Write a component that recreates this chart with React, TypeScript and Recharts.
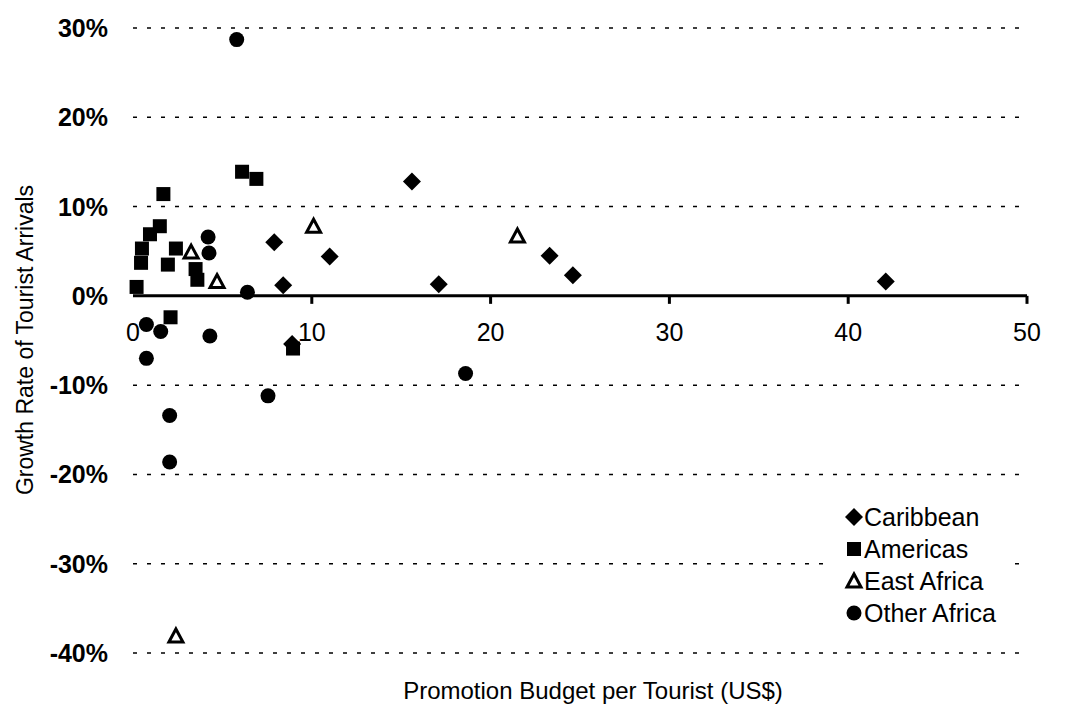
import React from 'react';
import {
  ScatterChart,
  Scatter,
  XAxis,
  YAxis,
  CartesianGrid,
  ReferenceLine,
  ReferenceDot,
  Legend,
  Label,
} from 'recharts';

// promotion budget per tourist (US$) vs growth rate of tourist arrivals (%)
const caribbean = [
  { x: 7.9, y: 6.0 },
  { x: 11.0, y: 4.4 },
  { x: 8.4, y: 1.2 },
  { x: 17.1, y: 1.3 },
  { x: 23.3, y: 4.5 },
  { x: 24.6, y: 2.3 },
  { x: 15.6, y: 12.8 },
  { x: 42.1, y: 1.6 },
  { x: 8.9, y: -5.4 },
];

const americas = [
  { x: 1.7, y: 11.4 },
  { x: 6.1, y: 13.9 },
  { x: 6.9, y: 13.1 },
  { x: 1.5, y: 7.8 },
  { x: 0.95, y: 6.9 },
  { x: 0.5, y: 5.3 },
  { x: 0.45, y: 3.7 },
  { x: 2.4, y: 5.3 },
  { x: 1.95, y: 3.5 },
  { x: 3.5, y: 3.0 },
  { x: 3.6, y: 1.8 },
  { x: 0.2, y: 1.0 },
  { x: 2.1, y: -2.4 },
  { x: 8.95, y: -5.9 },
];

const eastAfrica = [
  { x: 10.1, y: 7.8 },
  { x: 21.5, y: 6.7 },
  { x: 3.25, y: 4.9 },
  { x: 4.7, y: 1.6 },
  { x: 2.4, y: -38.1 },
];

const otherAfrica = [
  { x: 5.8, y: 28.7 },
  { x: 4.2, y: 6.6 },
  { x: 4.25, y: 4.8 },
  { x: 6.4, y: 0.4 },
  { x: 0.75, y: -3.2 },
  { x: 1.55, y: -4.0 },
  { x: 4.3, y: -4.5 },
  { x: 0.75, y: -7.0 },
  { x: 7.55, y: -11.2 },
  { x: 2.05, y: -13.4 },
  { x: 2.05, y: -18.6 },
  { x: 18.6, y: -8.7 },
];

const xTicks = [0, 10, 20, 30, 40, 50];
const yTicks = [-40, -30, -20, -10, 0, 10, 20, 30];

const FONT = '"Liberation Sans", Arial, sans-serif';

const Diamond = ({ cx, cy }: any) => (
  <polygon points={`${cx},${cy - 9} ${cx + 9},${cy} ${cx},${cy + 9} ${cx - 9},${cy}`} fill="#000" />
);
const Square = ({ cx, cy }: any) => <rect x={cx - 7} y={cy - 7} width={14} height={14} fill="#000" />;
const Triangle = ({ cx, cy }: any) => (
  <polygon
    points={`${cx},${cy - 7} ${cx + 7},${cy + 6} ${cx - 7},${cy + 6}`}
    fill="#fff"
    stroke="#000"
    strokeWidth={3}
    strokeLinejoin="miter"
  />
);
const Dot = ({ cx, cy }: any) => <circle cx={cx} cy={cy} r={7.5} fill="#000" />;

const legendItems = [
  { name: 'Caribbean', Shape: Diamond },
  { name: 'Americas', Shape: Square },
  { name: 'East Africa', Shape: Triangle },
  { name: 'Other Africa', Shape: Dot },
];

const renderLegend = () => (
  <div style={{ background: '#fff', paddingTop: 1, fontFamily: FONT, fontSize: 25, color: '#000' }}>
    {legendItems.map(({ name, Shape }) => (
      <div key={name} style={{ display: 'flex', alignItems: 'center', height: 32, paddingLeft: 11 }}>
        <svg width={20} height={20}>
          <Shape cx={10} cy={10} />
        </svg>
        <span style={{ lineHeight: '32px' }}>{name}</span>
      </div>
    ))}
  </div>
);

const YTick = ({ x, y, payload }: any) => (
  <text x={x} y={y} textAnchor="end" dominantBaseline="central" fontFamily={FONT} fontSize={25} fontWeight="bold" fill="#000">
    {`${payload.value}%`}
  </text>
);

const XTickMark = (value: number) => ({ cx, cy }: any) => (
  <g>
    {value > 0 && <line x1={cx} y1={cy} x2={cx} y2={cy + 8} stroke="#000" strokeWidth={3} />}
    <text x={cx} y={cy + 36} textAnchor="middle" dominantBaseline="central" fontFamily={FONT} fontSize={25} fill="#000">
      {value}
    </text>
  </g>
);

export default function App() {
  return (
    <div style={{ width: 1083, height: 708, background: '#fff', position: 'relative' }}>
      <style>{`body{margin:0}`}</style>
      <ScatterChart width={1083} height={708} margin={{ top: 28, right: 56, bottom: 0, left: 0 }}>
        <CartesianGrid vertical={false} stroke="#000" strokeWidth={1.5} strokeDasharray="4 10" />
        <XAxis type="number" dataKey="x" domain={[0, 50]} ticks={xTicks} tick={false} tickLine={false} axisLine={false} height={55}>
          <Label
            content={() => (
              <text x={593} y={690} textAnchor="middle" dominantBaseline="central" fontFamily={FONT} fontSize={24} fill="#000">
                Promotion Budget per Tourist (US$)
              </text>
            )}
          />
        </XAxis>
        <YAxis
          type="number"
          dataKey="y"
          domain={[-40, 30]}
          ticks={yTicks}
          width={133}
          tickSize={0}
          tickMargin={25}
          axisLine={false}
          tickLine={false}
          tick={<YTick />}
        >
          <Label
            content={() => (
              <text x={25} y={340} textAnchor="middle" dominantBaseline="central" transform="rotate(-90 25 340)" fontFamily={FONT} fontSize={23} fill="#000">
                Growth Rate of Tourist Arrivals
              </text>
            )}
          />
        </YAxis>
        <ReferenceLine y={0} stroke="#000" strokeWidth={3} />
        {xTicks.map((t) => (
          <ReferenceDot key={t} x={t} y={0} r={0} shape={XTickMark(t)} />
        ))}
        <Scatter name="Caribbean" data={caribbean} shape={<Diamond />} isAnimationActive={false} />
        <Scatter name="Americas" data={americas} shape={<Square />} isAnimationActive={false} />
        <Scatter name="East Africa" data={eastAfrica} shape={<Triangle />} isAnimationActive={false} />
        <Scatter name="Other Africa" data={otherAfrica} shape={<Dot />} isAnimationActive={false} />
        <Legend
          layout="horizontal"
          verticalAlign="middle"
          align="center"
          content={renderLegend}
          wrapperStyle={{ position: 'absolute', left: 833, top: 500, width: 177, height: 130, bottom: 'auto', right: 'auto' }}
        />
      </ScatterChart>
    </div>
  );
}
